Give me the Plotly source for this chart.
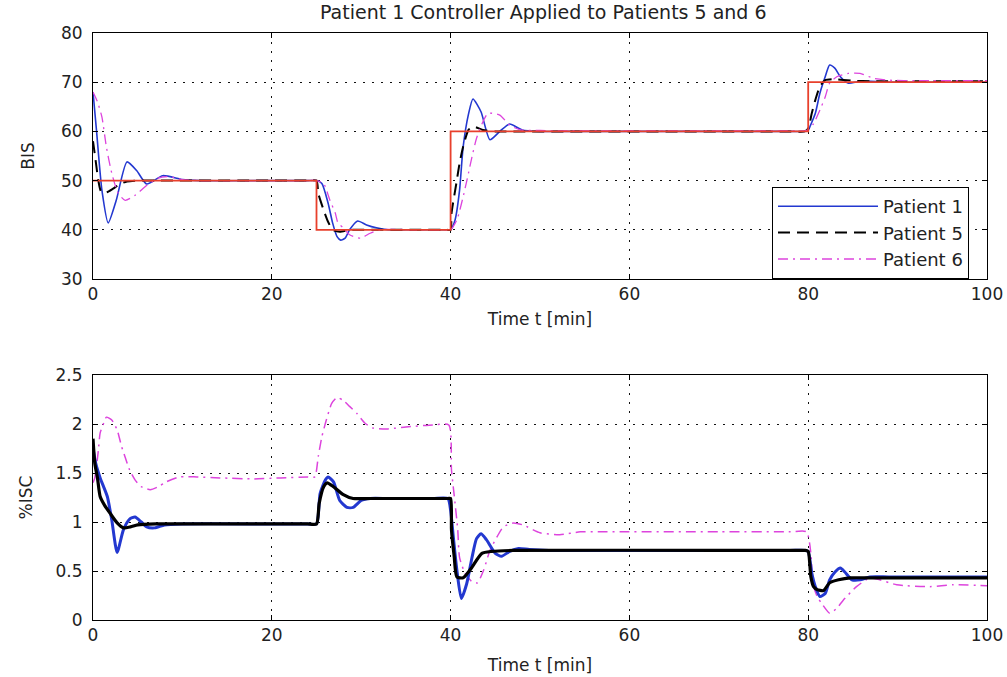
import plotly.graph_objects as go
from plotly.subplots import make_subplots

# ---------------- data ----------------
ref_t = [0, 25, 40, 80, 100]
ref_bis = [50, 40, 60, 70, 70]

p1_bis_t = [0, 0.4, 1.0, 1.7, 2.6, 3.8, 4.9, 6.0, 7.8, 10, 12, 20, 24, 25, 25.6, 26.3, 26.8, 27.3, 27.7,
            28.2, 28.7, 29.6, 30.6, 31.7, 33, 35, 38, 39.6, 40, 40.5, 41.0, 41.4, 42.0, 42.5, 43.4, 44.4,
            45.5, 46.6, 48, 50, 52, 70, 78, 79.6, 80, 80.2, 80.8, 81.3, 81.9, 82.4, 83.0, 83.6, 84.5,
            85.6, 87, 89, 95, 100]
p1_bis = [68, 60, 48, 41.4, 46, 53.8, 52, 49.3, 51, 50.2, 50, 50, 50, 50, 49.4, 45.4, 41.4, 38.6, 37.9,
          38.3, 40, 41.8, 41, 40.4, 40, 40, 40, 40, 40, 42, 48, 56.8, 63.5, 66.6, 64, 58.3,
          60, 61.5, 60.3, 60, 60, 60, 60, 60, 60.2, 61, 63.7, 67.7, 71.1, 73.5, 72.8, 71.1, 69.8,
          70.1, 70.2, 70, 70, 70]

p5_bis_t = [0, 0.3, 0.6, 0.9, 1.5, 2.2, 3.0, 3.8, 5, 7, 20, 24, 25, 25.2, 25.8, 26.3, 26.8, 27.6, 28.7,
            30, 36, 39.6, 40, 40.1, 40.7, 41.0, 41.4, 42.0, 42.5, 43.6, 45, 47, 70, 78, 79.6, 80, 80.4,
            80.8, 81.3, 81.9, 82.8, 85, 87, 95, 100]
p5_bis = [58, 54, 50, 47.8, 47.6, 48.3, 49.3, 49.8, 50, 50, 50, 50, 50, 47.4, 44, 41.6, 40, 39.6, 40,
          40, 40, 40, 40, 43.3, 50.1, 53.5, 56.9, 60.3, 61, 60.3, 60, 60, 60, 60, 60, 60.6, 63.7,
          66.4, 69.1, 70.4, 70.6, 70.3, 70.2, 70.2, 70.2]

p6_bis_t = [0, 0.5, 1.0, 1.5, 2.1, 2.8, 3.6, 4.7, 6.0, 7.3, 8.5, 10, 12, 20, 24, 25, 25.8, 26.5, 27.1,
            27.4, 28, 28.7, 29.9, 31, 32.1, 34, 36, 39.6, 40, 40.7, 41.4, 42.0, 42.4, 42.9, 43.7, 44.2,
            45.5, 46.6, 47.8, 50, 52, 70, 78, 79.6, 80, 80.6, 81.3, 81.9, 82.4, 83.2, 84.5, 85.8,
            87.3, 89.2, 92, 100]
p6_bis = [68, 66, 62.9, 56.8, 51.5, 47.5, 46, 47, 49, 50.5, 50.8, 50.2, 50, 50, 50, 50, 49.4, 46, 43.4,
          41.4, 40.4, 39, 38.3, 39.3, 40, 40.1, 40, 40, 40, 42, 46.7, 51.5, 54.9, 58.6, 62.3, 63.7,
          63.3, 61.3, 60.3, 60.2, 60.1, 60.1, 60.1, 60.1, 60.3, 61.6, 64.3, 67, 69.8, 71.1, 71.8, 71.8,
          70.8, 70.4, 70.3, 70.3]

p1_isc_t = [0, 0.3, 0.8, 1.6, 2.1, 2.7, 3.4, 4.1, 4.7, 5.4, 6.0, 6.9, 8, 10, 20, 24, 25, 25.4, 26.0,
            26.3, 26.9, 27.6, 28.4, 29.1, 30, 31, 33, 38, 39.7, 40, 40.3, 40.7, 41.2, 41.8, 42.4,
            42.9, 43.4, 44, 45, 45.7, 46.6, 47.6, 48.8, 51, 70, 78, 79.7, 80, 80.4, 80.8, 81.3, 81.9,
            82.4, 83.0, 83.6, 84.1, 84.9, 85.8, 86.9, 89, 95, 100]
p1_isc = [1.75, 1.6, 1.45, 1.26, 1.02, 0.69, 0.92, 1.03, 1.05, 1.0, 0.95, 0.94, 0.97, 0.98, 0.98, 0.98,
          0.98, 1.29, 1.43, 1.46, 1.41, 1.22, 1.15, 1.15, 1.22, 1.24, 1.24, 1.24, 1.24, 1.12, 0.85,
          0.51, 0.22, 0.37, 0.64, 0.83, 0.88, 0.82, 0.68, 0.65, 0.70, 0.73, 0.72, 0.71, 0.71, 0.71,
          0.71, 0.70, 0.48, 0.34, 0.24, 0.27, 0.41, 0.49, 0.53, 0.49, 0.41, 0.41, 0.44, 0.44, 0.44,
          0.44]

p5_isc_t = [0, 0.2, 0.5, 0.8, 1.3, 1.9, 2.7, 3.4, 4.2, 5, 7, 20, 24, 25, 25.3, 25.8, 26.2, 26.9, 28,
            29.1, 31, 38, 39.7, 40, 40.1, 40.4, 40.7, 41.4, 42, 42.4, 43.5, 44.6, 47, 70, 78, 79.7, 80,
            80.3, 80.6, 81, 81.7, 82.4, 83.4, 84.7, 87, 95, 100]
p5_isc = [1.85, 1.6, 1.45, 1.26, 1.17, 1.09, 0.99, 0.94, 0.95, 0.97, 0.98, 0.98, 0.98, 0.98, 1.19,
          1.36, 1.40, 1.36, 1.28, 1.24, 1.24, 1.24, 1.24, 1.24, 0.92, 0.65, 0.44, 0.43, 0.49, 0.54,
          0.68, 0.70, 0.71, 0.71, 0.71, 0.71, 0.70, 0.44, 0.34, 0.31, 0.30, 0.38, 0.41, 0.43, 0.43,
          0.43, 0.43]

p6_isc_t = [0, 0.2, 0.6, 0.8, 1.2, 1.5, 2.1, 2.7, 3.2, 3.6, 4.1, 4.7, 5.4, 6.4, 7.3, 8.2, 9.7, 11.6,
            14.2, 18, 21, 24, 24.8, 25.2, 25.6, 26.1, 26.7, 27.3, 28, 28.7, 29.5, 30.4, 31.3, 33, 35,
            38, 39.8, 40.1, 40.5, 40.8, 41, 41.6, 42.4, 43, 43.7, 44.4, 45.2, 45.9, 47, 48.1, 50,
            52.2, 54.5, 57, 70, 78, 79.8, 80.3, 80.5, 81, 81.5, 82.4, 83.2, 83.9, 85.4, 86.9, 88,
            89.9, 93.6, 96.2, 100]
p6_isc = [1.4, 1.45, 1.73, 1.91, 2.01, 2.07, 2.04, 1.94, 1.77, 1.66, 1.53, 1.43, 1.36, 1.33, 1.36,
          1.41, 1.46, 1.46, 1.45, 1.44, 1.45, 1.46, 1.46, 1.67, 1.87, 2.04, 2.21, 2.27, 2.24, 2.18,
          2.11, 2.01, 1.96, 1.95, 1.97, 1.99, 1.99, 1.53, 1.19, 0.92, 0.64, 0.48, 0.39, 0.38, 0.51,
          0.71, 0.85, 0.95, 0.99, 0.97, 0.89, 0.87, 0.90, 0.90, 0.90, 0.90, 0.90, 0.68, 0.38, 0.24,
          0.17, 0.07, 0.12, 0.20, 0.34, 0.43, 0.41, 0.36, 0.34, 0.36, 0.35]

series_names = ["Patient 1", "Patient 5", "Patient 6"]
title_text = "Patient 1 Controller Applied to Patients 5 and 6"

# ---------------- styles ----------------
BLUE = "#2338d0"
BLACK = "#000000"
MAGENTA = "#dd44dd"
RED = "#e8402c"
FONT = "DejaVu Sans"
TXT = "#222222"

fig = make_subplots(rows=2, cols=1, vertical_spacing=0.1639)

sm = 0.6
# top
fig.add_trace(go.Scatter(x=p1_bis_t, y=p1_bis, mode="lines", name=series_names[0],
                         line=dict(color=BLUE, width=1.6, shape="spline", smoothing=sm)), row=1, col=1)
fig.add_trace(go.Scatter(x=p5_bis_t, y=p5_bis, mode="lines", name=series_names[1],
                         line=dict(color=BLACK, width=2, dash="12px,7px", shape="spline", smoothing=sm)), row=1, col=1)
fig.add_trace(go.Scatter(x=p6_bis_t, y=p6_bis, mode="lines", name=series_names[2],
                         line=dict(color=MAGENTA, width=1.3, dash="10px,5px,2px,5px", shape="spline", smoothing=sm)), row=1, col=1)
fig.add_trace(go.Scatter(x=ref_t, y=ref_bis, mode="lines", showlegend=False,
                         line=dict(color=RED, width=1.8, shape="hv")), row=1, col=1)
# bottom
fig.add_trace(go.Scatter(x=p6_isc_t, y=p6_isc, mode="lines", showlegend=False,
                         line=dict(color=MAGENTA, width=1.5, dash="10px,5px,2px,5px", shape="spline", smoothing=sm)), row=2, col=1)
fig.add_trace(go.Scatter(x=p1_isc_t, y=p1_isc, mode="lines", showlegend=False,
                         line=dict(color=BLUE, width=3, shape="spline", smoothing=sm)), row=2, col=1)
fig.add_trace(go.Scatter(x=p5_isc_t, y=p5_isc, mode="lines", showlegend=False,
                         line=dict(color=BLACK, width=3.2, shape="spline", smoothing=sm)), row=2, col=1)

axis_common = dict(showline=True, linecolor="black", linewidth=1, mirror="ticks",
                   ticks="inside", ticklen=5, tickcolor="black",
                   showgrid=True, gridcolor="#111111", griddash="2px,7px", gridwidth=1,
                   zeroline=False, tickfont=dict(family=FONT, size=17, color=TXT))

fig.update_xaxes(range=[0, 100], dtick=20, **axis_common,
                 title=dict(text="Time t [min]", font=dict(family=FONT, size=17, color=TXT), standoff=9),
                 row=1, col=1)
fig.update_xaxes(range=[0, 100], dtick=20, **axis_common,
                 title=dict(text="Time t [min]", font=dict(family=FONT, size=17, color=TXT), standoff=14),
                 row=2, col=1)
fig.update_yaxes(range=[30, 80], dtick=10, **axis_common, ticklabelstandoff=6,
                 title=dict(text="BIS", font=dict(family=FONT, size=17, color=TXT), standoff=22), row=1, col=1)
fig.update_yaxes(range=[0, 2.5], dtick=0.5, **axis_common, ticklabelstandoff=6,
                 title=dict(text="%ISC", font=dict(family=FONT, size=17, color=TXT), standoff=18), row=2, col=1)

fig.update_layout(
    width=1007, height=677,
    margin=dict(l=93, r=20, t=33, b=57, autoexpand=False),
    paper_bgcolor="white", plot_bgcolor="white",
    title=dict(text=title_text, x=0.5395, xanchor="center", y=1 - 12 / 677, yanchor="middle",
               yref="container", font=dict(family=FONT, size=19, color=TXT)),
    legend=dict(x=(969 - 93) / 894, xanchor="right", y=(620 - 187) / 587, yanchor="top",
                bordercolor="black", borderwidth=1, bgcolor="white",
                font=dict(family=FONT, size=18, color=TXT), tracegroupgap=0,
                itemwidth=100),
    showlegend=True,
)
fig.update_yaxes(domain=[(620 - 279) / 587, 1], row=1, col=1)
fig.update_yaxes(domain=[0, (620 - 375) / 587], row=2, col=1)

fig.write_html("out.html")
